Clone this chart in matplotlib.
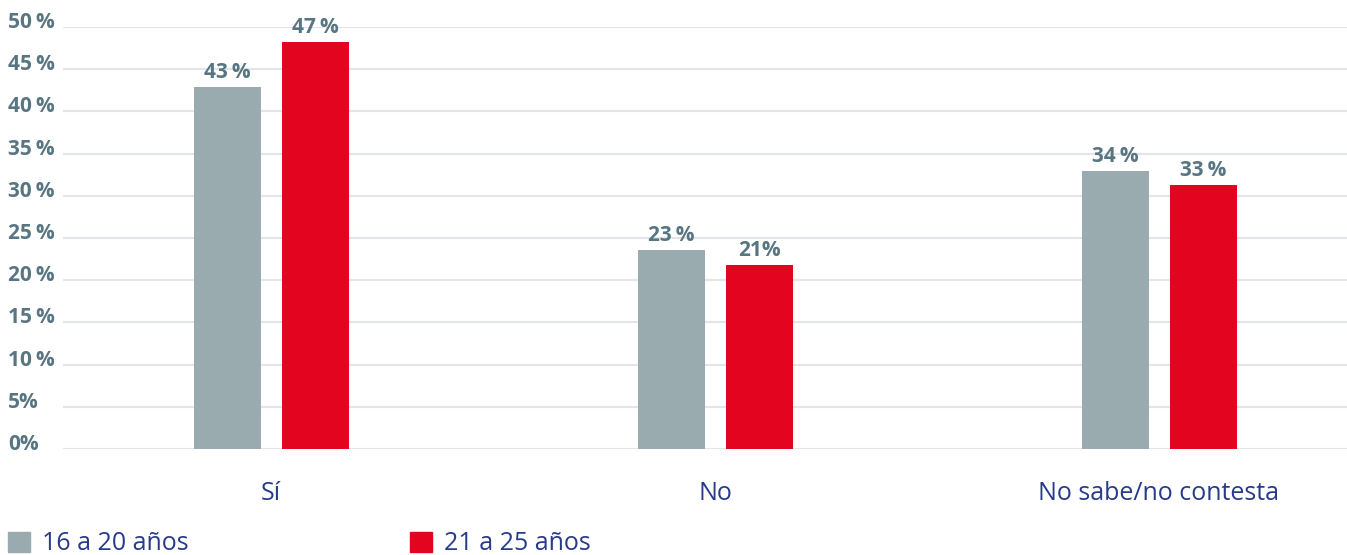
import matplotlib
matplotlib.use("Agg")
import matplotlib.pyplot as plt
from matplotlib.patches import Patch
import matplotlib.transforms as mtransforms

categories = ["Sí", "No", "No sabe/no contesta"]
series_names = ["16 a 20 años", "21 a 25 años"]
values_16_20 = [42.9, 23.6, 32.9]
values_21_25 = [48.2, 21.8, 31.3]
labels_16_20 = ["43\u2009%", "23\u2009%", "34\u2009%"]
labels_21_25 = ["47\u2009%", "21%", "33\u2009%"]
yticks = [0, 5, 10, 15, 20, 25, 30, 35, 40, 45, 50]
ytick_labels = ["0%", "5%", "10\u2009%", "15\u2009%", "20\u2009%", "25\u2009%",
                "30\u2009%", "35\u2009%", "40\u2009%", "45\u2009%", "50\u2009%"]

GRAY = "#9AABB0"
RED = "#E30520"
TICK = "#587682"
NAVY = "#283A8A"
GRID = "#E2E6EB"
FONT = ["Open Sans", "DejaVu Sans"]

plt.rcParams['font.family'] = FONT

W, H = 1347, 555
fig = plt.figure(figsize=(W / 100, H / 100), dpi=100)
ax = fig.add_axes([63 / W, (H - 449) / H, (W - 63) / W, (449 - 27) / H])

x = list(range(len(categories)))
bw = 67 / 444
off = 44 / 444
xs1 = [i - off for i in x]
xs2 = [i + off for i in x]
b1 = ax.bar(xs1, values_16_20, width=bw, color=GRAY, zorder=3)
b2 = ax.bar(xs2, values_21_25, width=bw, color=RED, zorder=3)

ax.set_xlim(-(271 - 63) / 444, 2 + (1347 - 1159) / 444)
ax.set_ylim(0, 50)

for sp in ax.spines.values():
    sp.set_visible(False)
ax.set_yticks(yticks)
ax.set_yticklabels([])
ax.tick_params(axis='both', length=0)
ax.grid(axis='y', color=GRID, lw=1.5, zorder=0)
ax.set_xticks(x)
ax.set_xticklabels(categories, fontsize=18, color=NAVY)
ax.tick_params(axis='x', pad=23)

# y tick labels, left aligned at figure x=8px, slightly above the gridlines
trans = mtransforms.blended_transform_factory(fig.transFigure, ax.transData)
trans = trans + mtransforms.ScaledTranslation(0, 4.5 / 100, fig.dpi_scale_trans)
for v, lab in zip(yticks, ytick_labels):
    ax.text(8 / W, v, lab, transform=trans, ha='left', va='center',
            fontsize=15, fontweight='bold', color=TICK, clip_on=False)

for bars, labs in ((b1, labels_16_20), (b2, labels_21_25)):
    for r, lab in zip(bars, labs):
        ax.annotate(lab, (r.get_x() + r.get_width() / 2, r.get_height()),
                    xytext=(0, 3), textcoords='offset points', ha='center', va='bottom',
                    fontsize=15, fontweight='bold', color=TICK)

handles = [Patch(color=GRAY), Patch(color=RED)]
leg = fig.legend(handles, series_names, loc='center left', bbox_to_anchor=(8 / W, 11 / H),
                 ncol=2, frameon=False, fontsize=18, handlelength=0.88, handleheight=0.88,
                 handletextpad=0.48, columnspacing=8.85, borderaxespad=0, borderpad=0)
for t in leg.get_texts():
    t.set_color(NAVY)

fig.savefig("out.png", dpi=100)
